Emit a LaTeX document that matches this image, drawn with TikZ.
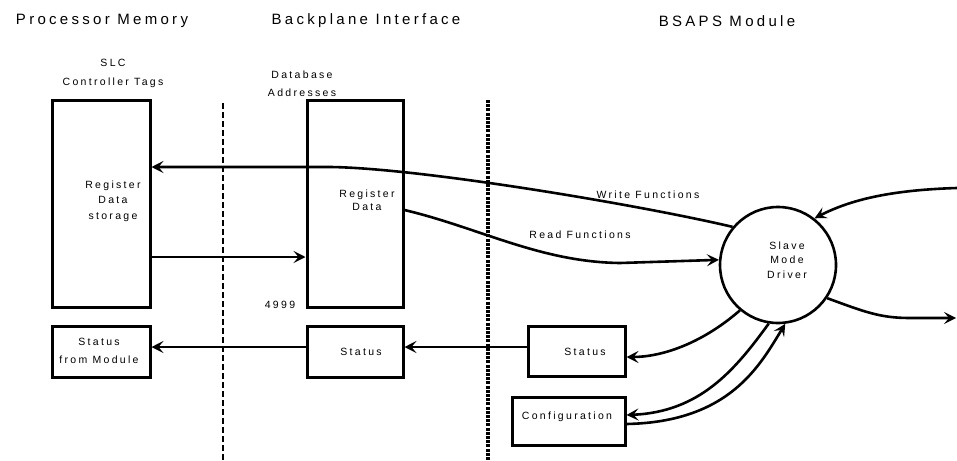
\documentclass[tikz,border=0pt]{standalone}
\usepackage{fontspec}
\setmainfont[LetterSpace=22]{Liberation Sans}
\usetikzlibrary{arrows.meta}
\begin{document}
\begin{tikzpicture}[x=1pt,y=-1pt,
  box/.style={draw, line width=3pt, inner sep=0pt},
  lbl/.style={font=\fontsize{10.5}{15}\selectfont, align=center, inner sep=0pt},
  hdr/.style={font=\fontsize{15}{18}\selectfont, inner sep=0pt},
  conn/.style={line width=2.6pt, -{Stealth[length=12pt,width=12pt,inset=5pt]}},
  sep1/.style={line width=2.6pt, dash pattern=on 6pt off 3pt},
  sep2/.style={line width=3.8pt, dash pattern=on 3pt off 1.2pt}
]
\useasboundingbox (0,0) rectangle (957,460);

% headers
\node[hdr] (h1) at (102,21) {Processor Memory};
\node[hdr] (h2) at (366,21) {Backplane Interface};
\node[hdr] (h3) at (727,21) {BSAPS Module};

% separators
\coordinate (d1t) at (223,103);
\coordinate (d1b) at (223,460);
\coordinate (d2t) at (488,100);
\coordinate (d2b) at (488,460);
\draw[sep1] (d1t) -- (d1b);
\draw[sep2] (d2t) -- (d2b);

% boxes
\node[box, minimum width=98pt, minimum height=207pt] (mem) at (101,203.5) {};
\node[box, minimum width=96pt, minimum height=207pt] (db) at (355,203.5) {};
\node[box, minimum width=98pt, minimum height=51pt] (smod) at (101,351.5) {};
\node[box, minimum width=96pt, minimum height=51pt] (bstat) at (355,351.5) {};
\node[box, minimum width=97pt, minimum height=50pt] (mstat) at (576.5,351.5) {};
\node[box, minimum width=113pt, minimum height=48pt] (config) at (568.5,421) {};
\node[draw, circle, line width=2.6pt, minimum size=116pt, inner sep=0pt] (driver) at (778,265) {};

% texts
\node[lbl, font=\fontsize{10.5}{19}\selectfont] (t1) at (113,73) {SLC\\Controller Tags};
\node[lbl, font=\fontsize{10.5}{18}\selectfont] (t2) at (302,84) {Database\\Addresses};
\node[lbl, font=\fontsize{10.5}{15.5}\selectfont] (t3) at (113,201) {Register\\Data\\storage};
\node[lbl, font=\fontsize{10.5}{13.5}\selectfont] (t4) at (367,200) {Register\\Data};
\node[lbl] (t5) at (280,305) {4999};
\node[lbl, font=\fontsize{10.5}{18}\selectfont] (t6) at (99,351) {Status\\from Module};
\node[lbl] (t7) at (361,352) {Status};
\node[lbl] (t8) at (585,352) {Status};
\node[lbl] (t9) at (567,417) {Configuration};
\node[lbl, font=\fontsize{10.5}{14.5}\selectfont] (t10) at (787,260) {Slave\\Mode\\Driver};
\node[lbl] (t11) at (648,195) {Write Functions};
\node[lbl] (t12) at (580,235) {Read Functions};

% free ends
\coordinate (rin) at (957,188);
\coordinate (rout) at (956,318);

% connectors
\draw[conn] (driver.140) .. controls (640,205) and (420,168) .. (330,167) -- ([yshift=36.5pt]mem.east);
\draw[conn] ([yshift=-53.5pt]mem.east) -- ([yshift=-53.5pt]db.west);
\draw[conn] ([yshift=-6.5pt]db.east) .. controls (480,228) and (540,262) .. (620,263) -- (driver.175);
\draw[conn] (rin) .. controls (890,190) and (850,200) .. (driver.52);
\draw[conn] (driver.326) .. controls (865,312) and (880,318) .. (910,318) -- (rout);
\draw[conn] (driver.230) .. controls (700,345) and (660,357) .. ([yshift=-5.5pt]mstat.east);
\draw[conn] (driver.261) .. controls (735,370) and (700,412) .. ([yshift=6pt]config.east);
\draw[conn] ([yshift=-3pt]config.east) .. controls (730,422) and (760,365) .. (driver.277);
\draw[conn] ([yshift=4.5pt]mstat.west) -- ([yshift=4.5pt]bstat.east);
\draw[conn] ([yshift=4.5pt]bstat.west) -- ([yshift=4.5pt]smod.east);
\end{tikzpicture}
\end{document}
